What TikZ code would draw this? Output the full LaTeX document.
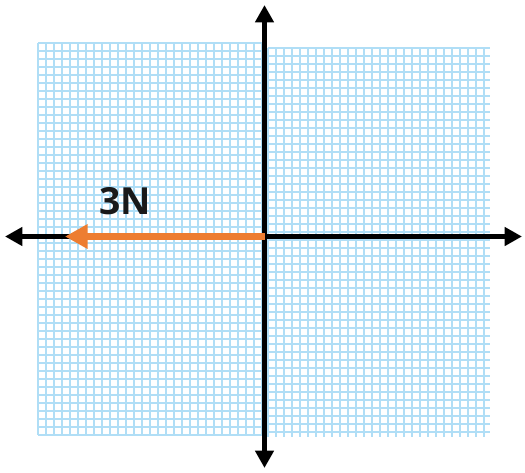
\documentclass[tikz,border=0pt]{standalone}
\usepackage{fontspec}
\newfontfamily\labelfont{Open Sans}
\definecolor{gridblue}{HTML}{B0DEF6}
\definecolor{forceorange}{HTML}{ED7D31}
\usetikzlibrary{arrows.meta}

\begin{document}
\begin{tikzpicture}[x=0.75pt, y=-0.75pt,
  gridline/.style={draw=gridblue, line width=2pt},
  axis/.style={-{Triangle[length=13pt, width=13.5pt]}, line width=3.9pt, black},
  force/.style={-{Triangle[length=17pt, width=17.5pt]}, line width=5.5pt, forceorange},
  lbl/.style={font=\labelfont\bfseries\fontsize{28}{30}\selectfont, text=black!90, inner sep=0pt}]
  \useasboundingbox (0,0) rectangle (525,472);
  % background grid, left and right halves
  \foreach \x in {38,46,...,262} {\draw[gridline] (\x,43) -- (\x,435);}
  \foreach \y in {43,51,...,435} {\draw[gridline] (38,\y) -- (263,\y);}
  \foreach \x in {268,276,...,490} {\draw[gridline] (\x,48) -- (\x,437);}
  \foreach \y in {48,56,...,437} {\draw[gridline] (268,\y) -- (490,\y);}
  % axes
  \coordinate (origin) at (264.5,236.5);
  \coordinate (left) at (5,236.5);
  \coordinate (right) at (522,236.5);
  \coordinate (top) at (264.5,5);
  \coordinate (bottom) at (264.5,468);
  \draw[axis] (origin) -- (left);
  \draw[axis] (origin) -- (right);
  \draw[axis] (origin) -- (top);
  \draw[axis] (origin) -- (bottom);
  % force vector
  \coordinate (tip) at (65,236.5);
  \draw[force] (origin) -- (tip);
  \node[lbl] (flabel) at (125,201) {3N};
\end{tikzpicture}
\end{document}
